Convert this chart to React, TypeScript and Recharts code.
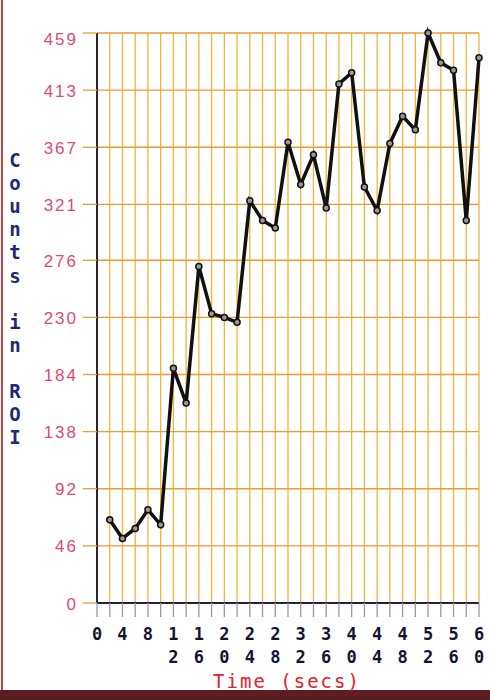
import React from 'react';
import { LineChart, Line, XAxis, YAxis, CartesianGrid } from 'recharts';

const times = [2, 4, 6, 8, 10, 12, 14, 16, 18, 20, 22, 24, 26, 28, 30, 32, 34, 36, 38, 40, 42, 44, 46, 48, 50, 52, 54, 56, 58, 60];
const counts = [67, 52, 60, 75, 63, 189, 161, 271, 233, 230, 226, 324, 308, 302, 371, 337, 361, 318, 418, 427, 335, 316, 370, 392, 381, 459, 435, 429, 308, 439];
const xGridTicks = [0, 2, 4, 6, 8, 10, 12, 14, 16, 18, 20, 22, 24, 26, 28, 30, 32, 34, 36, 38, 40, 42, 44, 46, 48, 50, 52, 54, 56, 58, 60];
const xLabelTicks = [0, 4, 8, 12, 16, 20, 24, 28, 32, 36, 40, 44, 48, 52, 56, 60];
const yTicks = [0, 46, 92, 138, 184, 230, 276, 321, 367, 413, 459];
const yTitleLetters = ['C', 'o', 'u', 'n', 't', 's', '', 'i', 'n', '', 'R', 'O', 'I'];
const xTitle = 'Time (secs)';

const data = times.map((t, i) => ({ t, c: counts[i] }));

const MONO = '"DejaVu Sans Mono", "Liberation Mono", monospace';

const XTick = (props: any) => {
  const { x, y, payload } = props;
  const v = payload.value;
  if (!xLabelTicks.includes(v)) return null;
  const s = String(v);
  return (
    <g>
      {s.split('').map((ch, i) => (
        <text
          key={i}
          x={x}
          y={y + 21 + i * 23}
          textAnchor="middle"
          fontFamily={MONO}
          fontWeight="bold"
          fontSize={17}
          fill="#141430"
        >
          {ch}
        </text>
      ))}
    </g>
  );
};

const YTick = (props: any) => {
  const { x, y, payload } = props;
  const shift = payload.value === yTicks[yTicks.length - 1] ? 6 : 1;
  return (
    <text
      x={x}
      y={y + shift}
      textAnchor="end"
      dominantBaseline="central"
      fontFamily='"Liberation Sans", Arial, sans-serif'
      fontSize={17}
      letterSpacing={2}
      fill="#df4a74"
    >
      {payload.value}
    </text>
  );
};

const YTitle = () => (
  <g>
    {yTitleLetters.map((ch, i) => (
      <text
        key={i}
        x={15}
        y={160 + i * 23.1}
        textAnchor="middle"
        dominantBaseline="central"
        fontFamily={MONO}
        fontWeight="bold"
        fontSize={19}
        fill="#1c2a7a"
      >
        {ch}
      </text>
    ))}
  </g>
);

const XTitle = () => (
  <text
    x={287}
    y={681}
    textAnchor="middle"
    dominantBaseline="central"
    fontFamily={MONO}
    fontSize={19}
    letterSpacing={2}
    fill="#e4202a"
  >
    {xTitle}
  </text>
);

export default function App() {
  return (
    <div style={{ position: 'absolute', left: 0, top: 0, width: 490, height: 700, background: '#fff', overflow: 'hidden' }}>
      <div style={{ position: 'absolute', left: 1, top: 0, width: 2, height: 690, background: '#c8464a' }} />
      <div style={{ position: 'absolute', left: 0, top: 690, width: 490, height: 10, background: '#5a1e22' }} />
      <LineChart width={490} height={700} data={data} margin={{ top: 33, right: 11, bottom: 0, left: 0 }}>
        <CartesianGrid horizontal={false} vertical={true} stroke="#f4b43a" strokeWidth={1.3} />
        <CartesianGrid horizontal={true} vertical={false} stroke="#f09a30" strokeWidth={1.3} />
        <XAxis
          dataKey="t"
          type="number"
          domain={[0, 60]}
          ticks={xGridTicks}
          interval={0}
          height={97}
          tickSize={14}
          tickMargin={2}
          tick={<XTick />}
          tickLine={{ stroke: '#8c9ab8', strokeWidth: 1.3 }}
          axisLine={{ stroke: '#2a2238', strokeWidth: 2 }}
          label={{ content: () => <XTitle /> }}
        />
        <YAxis
          type="number"
          domain={[0, 459]}
          ticks={yTicks}
          interval={0}
          width={97}
          tickSize={14}
          tickMargin={5}
          tick={<YTick />}
          tickLine={{ stroke: '#f09a30', strokeWidth: 1.3 }}
          axisLine={{ stroke: '#2a2238', strokeWidth: 2 }}
          label={{ content: () => <YTitle /> }}
        />
        <Line
          type="linear"
          dataKey="c"
          stroke="#111"
          strokeWidth={3.5}
          dot={{ r: 3, fill: '#999', stroke: '#111', strokeWidth: 1.5 }}
          isAnimationActive={false}
        />
      </LineChart>
    </div>
  );
}
